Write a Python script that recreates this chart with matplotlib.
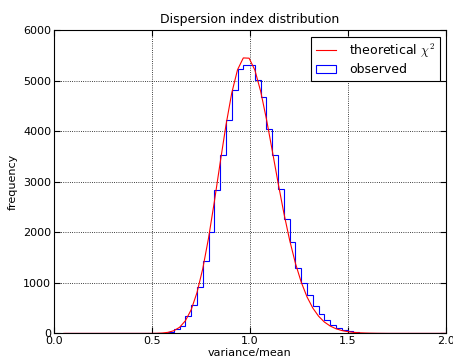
import numpy as np
import matplotlib
matplotlib.use("Agg")
import matplotlib.pyplot as plt

plt.rcParams['mathtext.fontset'] = 'cm'
plt.rcParams['font.family'] = ['DejaVu Sans']

# bin edges of the histogram (66 bins between 0.05 and 2.0)
bin_lo, bin_hi, n_bins = 0.05, 2.0, 66

# observed counts per bin
observed = [0]*17 + [10, 35, 85, 140, 340, 563, 914, 1440, 2015, 2831, 3526, 4234, 4810,
                     5240, 5320, 5320, 5022, 4677, 4050, 3540, 2858, 2265, 1815, 1303,
                     994, 760, 547, 378, 256, 160, 115, 62, 38, 24, 16, 12, 10, 8, 6, 5,
                     4, 3, 3, 2, 2, 1, 1, 1, 1]

# theoretical curve sampled at the bin edges
theoretical = [0]*16 + [2, 7, 21, 53, 121, 250, 469, 807, 1281, 1890, 2607, 3376, 4118,
                        4757, 5218, 5453, 5448, 5212, 4791, 4239, 3618, 2984, 2383, 1846,
                        1388, 1015, 723, 502, 340, 225, 146, 92, 57, 35, 21, 12, 7, 4, 2,
                        1] + [0]*11

edges = np.linspace(bin_lo, bin_hi, n_bins + 1)

fig = plt.figure(figsize=(4.53, 3.56), dpi=100)
ax = fig.add_axes([0.1192, 0.0635, 0.9845 - 0.1192, 0.9149 - 0.0635])

ax.plot(edges, theoretical, color='#ff0000', lw=0.8, label=r'theoretical $\chi^2$', zorder=3)
ax.hist(edges[:-1], bins=edges, weights=observed, histtype='step', color='#0000ff',
        lw=0.8, label='observed', zorder=2)

ax.set_xlim(0, 2)
ax.set_ylim(0, 6000)
ax.set_xticks([0.0, 0.5, 1.0, 1.5, 2.0])
ax.set_xticklabels(['0.0', '0.5', '1.0', '1.5', '2.0'])
ax.set_yticks(range(0, 6001, 1000))
ax.tick_params(direction='in', top=True, right=True, labelsize=8, length=4, pad=2)
ax.grid(True, color='black', linestyle=':', linewidth=0.6)

ax.set_title('Dispersion index distribution', fontsize=9, pad=5)
ax.set_xlabel('variance/mean', fontsize=8, labelpad=1)
ax.set_ylabel('frequency', fontsize=8, labelpad=4)

leg = ax.legend(loc='upper right', fontsize=9, fancybox=False, framealpha=1,
                edgecolor='black', borderaxespad=0.5, handlelength=1.6,
                handletextpad=1.0, borderpad=0.4, labelspacing=0.3)
leg.get_frame().set_linewidth(0.8)

for s in ax.spines.values():
    s.set_linewidth(0.8)

fig.savefig('out.png', dpi=100, facecolor='white')
